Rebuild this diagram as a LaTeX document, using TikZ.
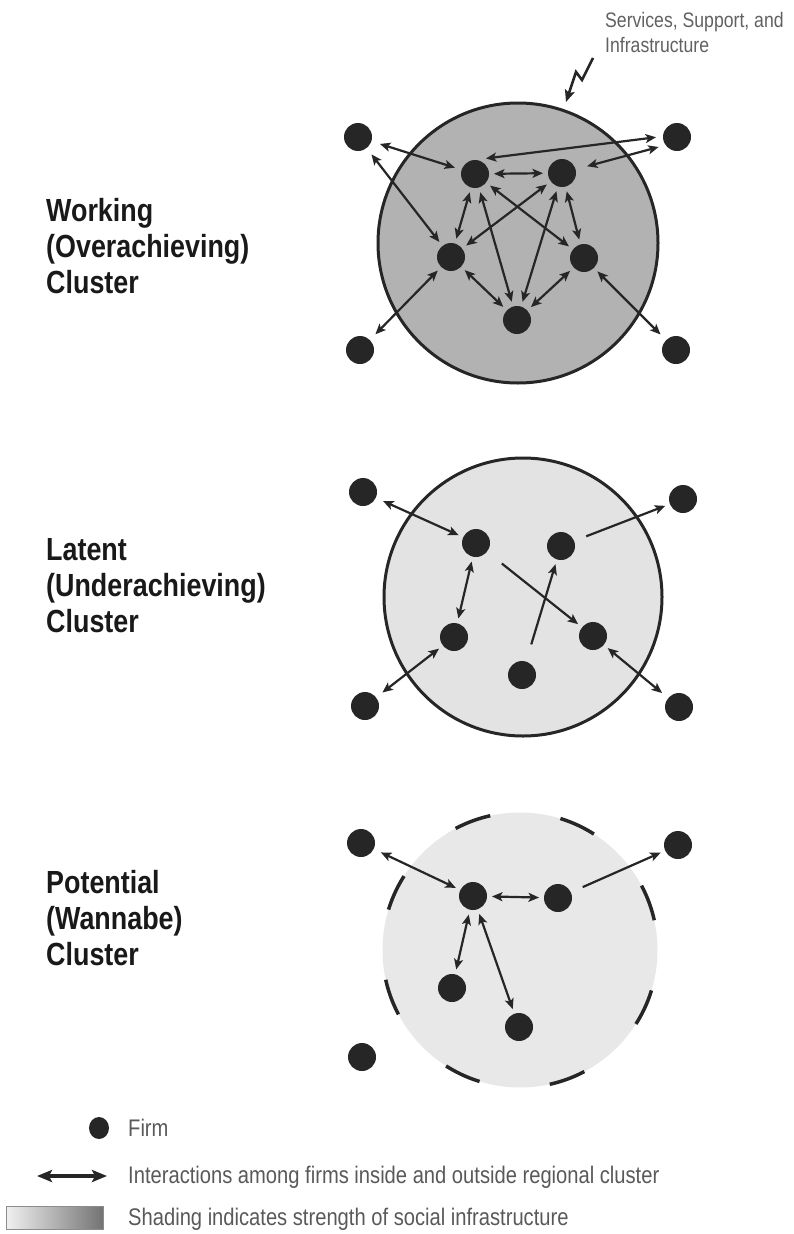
\documentclass[tikz,border=0pt]{standalone}
\usepackage{fontspec}
\newfontfamily\condfont[FakeStretch=0.84]{Liberation Sans}
\usetikzlibrary{arrows.meta,shapes.geometric}

\begin{document}
\begin{tikzpicture}[x=1pt, y=-1pt, >={Stealth[length=10.5pt,width=9pt,inset=2.5pt]}]
        \tikzstyle{firm}=[circle, fill=black!85, inner sep=0pt, minimum size=28pt, outer sep=5pt]
        \tikzstyle{link}=[draw=black!85, line width=2.2pt]
        \tikzstyle{ring}=[circle, draw=black!85, line width=3pt, inner sep=0pt]
        \tikzstyle{tag}=[anchor=west, align=left, inner sep=0pt, text=black!90, font=\condfont\bfseries\fontsize{32}{36}\selectfont]
        \tikzstyle{note}=[anchor=west, inner sep=0pt, text=black!65, font=\condfont\fontsize{24}{28}\selectfont]
        \useasboundingbox (0,0) rectangle (793,1234);

        % working cluster
        \node [ring, fill=black!30, minimum size=280pt] (ringW) at (518,243) {};
        \node [firm] (wTL) at (358,137) {};
        \node [firm] (wTR) at (677,137) {};
        \node [firm] (wBL) at (360,350) {};
        \node [firm] (wBR) at (676,350) {};
        \node [firm] (wA) at (475,174) {};
        \node [firm] (wB) at (562,173) {};
        \node [firm] (wC) at (451,257) {};
        \node [firm] (wD) at (584,258) {};
        \node [firm] (wE) at (517,320) {};
        \draw [link, <->, shorten <=4pt, shorten >=2pt] (wTL) -- (wA);
        \draw [link, <->, shorten <=3pt] (wTL) -- (wC);
        \draw [link, <->, shorten >=2pt] (wA.55) -- (wTR.west);
        \draw [link, <->, shorten <=7pt, shorten >=2pt] (wB) -- (wTR.210);
        \draw [link, <->] (wA) -- (wB);
        \draw [link, <->] (wA) -- (wC);
        \draw [link, <->] (wA) -- (wD);
        \draw [link, <->] (wA) -- (wE);
        \draw [link, <->] (wB) -- (wC);
        \draw [link, <->] (wB) -- (wD);
        \draw [link, <->] (wB) -- (wE);
        \draw [link, <->] (wC) -- (wE);
        \draw [link, <->] (wD) -- (wE);
        \draw [link, <->, shorten >=3pt] (wC) -- (wBL);
        \draw [link, <->, shorten >=3pt] (wD) -- (wBR);
        \node [tag] (tagW) at (46,246) {Working\\(Overachieving)\\Cluster};
        \node [anchor=north west, align=left, inner sep=0pt, text=black!62, font=\condfont\fontsize{21}{25}\selectfont] (infra) at (605,12) {Services, Support, and\\Infrastructure};
        \coordinate (boltTop) at (593,58);
        \coordinate (boltTip) at (566,102);
        \draw [line width=2.6pt, draw=black!85, -{Stealth[length=12pt,width=10pt,inset=2.5pt]}] (boltTop) -- ++(-11,22) -- ++(-6,-8) -- (boltTip);

        % latent cluster
        \node [ring, fill=black!11, minimum size=278pt] (ringL) at (523,597) {};
        \node [firm] (lTL) at (363,492) {};
        \node [firm] (lTR) at (683,499) {};
        \node [firm] (lBL) at (365,706) {};
        \node [firm] (lBR) at (679,707) {};
        \node [firm] (lA) at (476,543) {};
        \node [firm] (lB) at (561,546) {};
        \node [firm] (lC) at (454,637) {};
        \node [firm] (lD) at (593,636) {};
        \node [firm] (lE) at (522,675) {};
        \draw [link, <->, shorten <=3pt] (lTL) -- (lA);
        \draw [link, <->] (lA) -- (lC);
        \draw [link, <->, shorten >=3pt] (lC) -- (lBL);
        \draw [link, ->, shorten <=14pt] (lA) -- (lD);
        \draw [link, ->, shorten <=13pt] (lE) -- (lB);
        \draw [link, ->, shorten <=8pt] (lB) -- (lTR);
        \draw [link, <->, shorten >=3pt] (lD) -- (lBR);
        \node [tag] (tagL) at (46,586) {Latent\\(Underachieving)\\Cluster};

        % potential cluster
        \node [ring, fill=black!9, draw=none, minimum size=275pt] (ringP) at (520,950) {};
        \draw [line width=3.5pt, draw=black!85, dash pattern=on 37pt off 71pt, dash phase=78pt] (520,950) circle [radius=137.5pt];
        \node [firm] (pTL) at (361,843) {};
        \node [firm] (pTR) at (678,845) {};
        \node [firm] (pBL) at (362,1057) {};
        \node [firm] (pA) at (473,896) {};
        \node [firm] (pB) at (558,898) {};
        \node [firm] (pC) at (452,988) {};
        \node [firm] (pD) at (519,1027) {};
        \draw [link, <->, shorten <=3pt] (pTL) -- (pA);
        \draw [link, <->] (pA) -- (pB);
        \draw [link, <->] (pA) -- (pC);
        \draw [link, <->] (pA) -- (pD);
        \draw [link, ->, shorten <=8pt] (pB) -- (pTR);
        \node [tag] (tagP) at (46,918) {Potential\\(Wannabe)\\Cluster};

        % key
        \node [ellipse, fill=black!85, inner sep=0pt, minimum width=20pt, minimum height=22pt] (keyFirm) at (99,1128) {};
        \node [note] (txtFirm) at (128,1128) {Firm};
        \coordinate (keyL) at (37,1176);
        \coordinate (keyR) at (107,1176);
        \draw [line width=3.5pt, draw=black!85, {Stealth[length=15pt,width=12pt,inset=3pt]}-{Stealth[length=15pt,width=12pt,inset=3pt]}] (keyL) -- (keyR);
        \node [note] (txtLink) at (128,1177) {Interactions among firms inside and outside regional cluster};
        \node [draw=black!45, line width=1pt, left color=black!6, right color=black!55, minimum width=97pt, minimum height=23pt, inner sep=0pt, anchor=north west] (keyShade) at (6,1206) {};
        \node [note] (txtShade) at (128,1219) {Shading indicates strength of social infrastructure};
    \end{tikzpicture}
\end{document}
